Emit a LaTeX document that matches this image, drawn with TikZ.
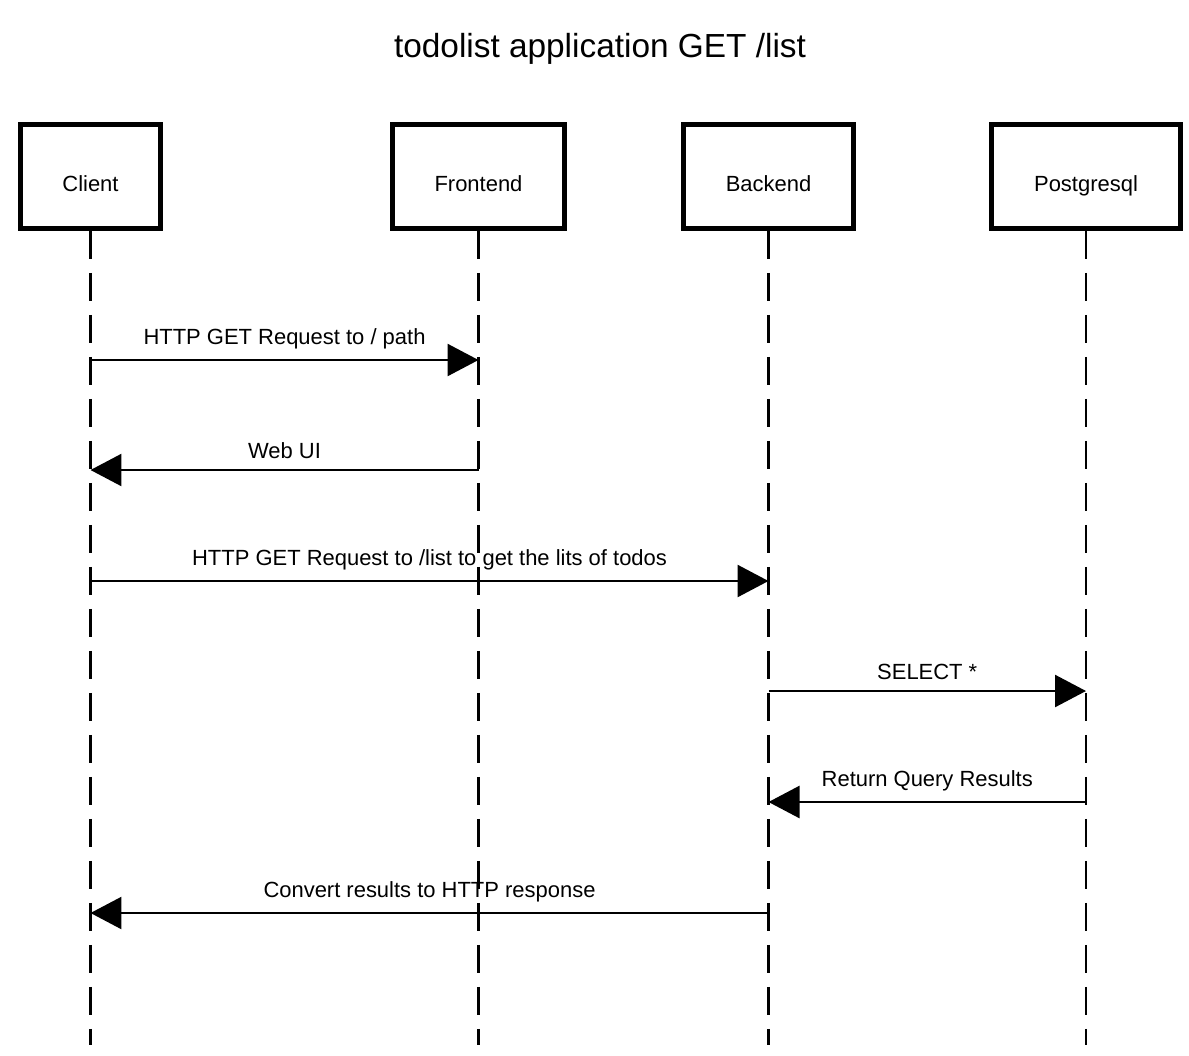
\documentclass[tikz,border=0pt]{standalone}
\usepackage{fontspec}
\setmainfont{Liberation Sans}
\usetikzlibrary{arrows.meta}

\begin{document}
\begin{tikzpicture}[x=0.02cm, y=-0.02cm,
	actor/.style={draw, line width=0.1cm, fill=white, minimum height=2.08cm, text height=0.66cm, text depth=0.08cm, font=\fontsize{12.5}{15}\selectfont},
	lifeline/.style={line width=0.05cm, dash pattern=on 0.56cm off 0.28cm},
	msg/.style={line width=0.05cm, -{Triangle[length=0.62cm, width=0.64cm]}},
	lbl/.style={above=0.08cm, font=\fontsize{12.5}{15}\selectfont}]
	\useasboundingbox (0,0) rectangle (1189,1055);
	
	%title
	\node[font=\fontsize{19}{23}\selectfont] (title) at (600,49) {todolist application GET /list};
	
	%participants
	\coordinate (bottom) at (0,1045);
	\node[actor, minimum width=2.82cm] (client) at (90.5,176.5) {Client};
	\node[actor, minimum width=3.44cm] (frontend) at (478.5,176.5) {Frontend};
	\node[actor, minimum width=3.40cm] (backend) at (768.5,176.5) {Backend};
	\node[actor, minimum width=3.78cm] (postgres) at (1086,176.5) {Postgresql};
	
	%lifelines
	\draw[lifeline] (client.south) -- (client.south |- bottom);
	\draw[lifeline] (frontend.south) -- (frontend.south |- bottom);
	\draw[lifeline] (backend.south) -- (backend.south |- bottom);
	\draw[lifeline] (postgres.south) -- (postgres.south |- bottom);
	
	%messages
	\draw[msg] (client.south |- 0,360) -- node[lbl] {HTTP GET Request to / path} (frontend.south |- 0,360);
	\draw[msg] (frontend.south |- 0,470) -- node[lbl] {Web UI} (client.south |- 0,470);
	\draw[msg] (client.south |- 0,581) -- node[lbl] {HTTP GET Request to /list to get the lits of todos} (backend.south |- 0,581);
	\draw[msg] (backend.south |- 0,691) -- node[lbl] {SELECT *} (postgres.south |- 0,691);
	\draw[msg] (postgres.south |- 0,802) -- node[lbl] {Return Query Results} (backend.south |- 0,802);
	\draw[msg] (backend.south |- 0,913) -- node[lbl] {Convert results to HTTP response} (client.south |- 0,913);
\end{tikzpicture}
\end{document}
